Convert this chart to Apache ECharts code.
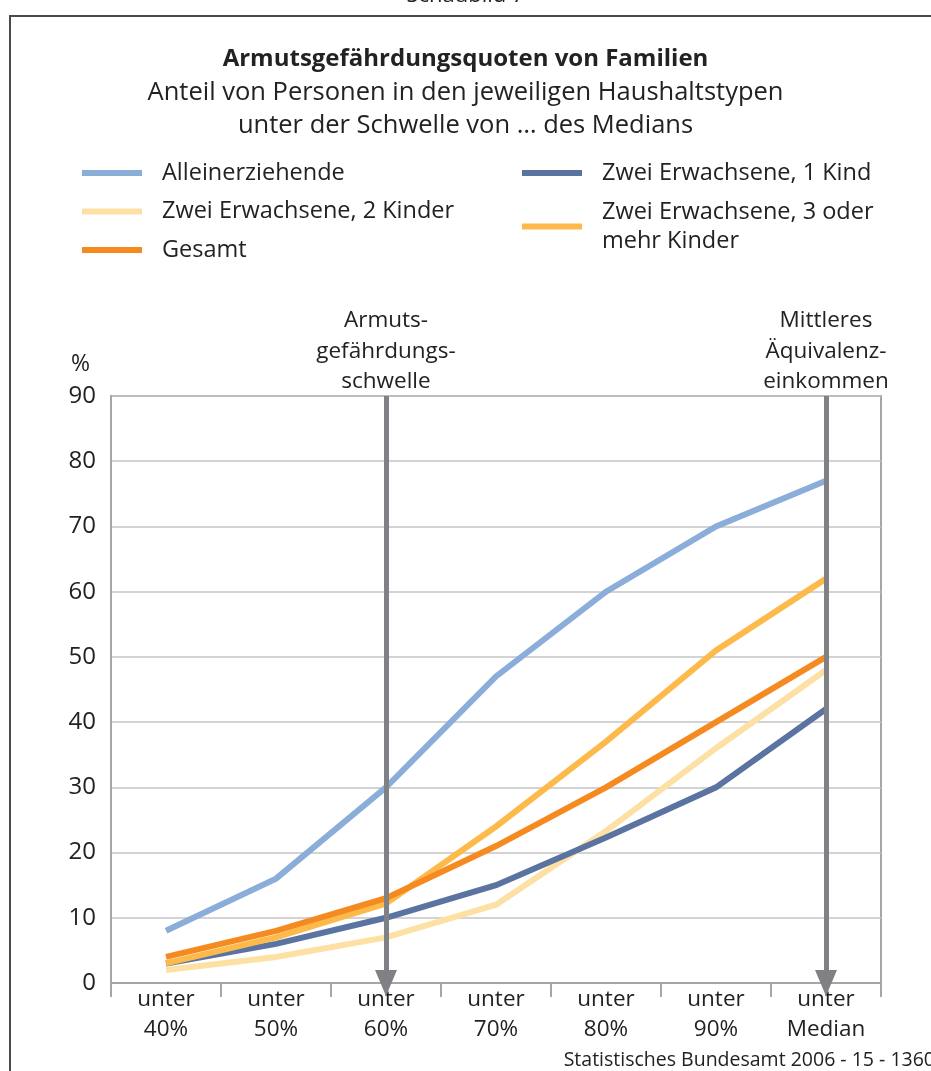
<!DOCTYPE html>
<html>
<head>
<meta charset="UTF-8">
<title>Armutsgefährdungsquoten von Familien</title>
<script src="https://cdn.jsdelivr.net/npm/echarts@6/dist/echarts.min.js"></script>
<style>
    html, body { margin: 0; padding: 0; background: #ffffff; }
    #main { width: 931px; height: 1071px; }
</style>
</head>
<body>
<div id="main"></div>
<script>
    // Daten
    var categories = ['unter\n40%', 'unter\n50%', 'unter\n60%', 'unter\n70%', 'unter\n80%', 'unter\n90%', 'unter\nMedian'];
    var yTicks = [0, 10, 20, 30, 40, 50, 60, 70, 80, 90];

    var alleinerziehende = [8, 16, 30, 47, 60, 70, 77];
    var zweiErw1Kind = [3, 6, 10, 15, 22.3, 30, 42];
    var zweiErw2Kinder = [2, 4, 7, 12, 23.3, 36, 48];
    var zweiErw3Kinder = [3, 7, 12.2, 24, 37, 51, 62];
    var gesamt = [4, 8, 13, 21, 30, 40, 50];

    // Markierungen: Armutsgefährdungsschwelle (60%) und Median
    var markers = [
        {index: 2, text: 'Armuts-\ngefährdungs-\nschwelle'},
        {index: 6, text: 'Mittleres\nÄquivalenz-\neinkommen'}
    ];

    var font = '"Open Sans", "Noto Sans", sans-serif';
    var textColor = '#222222';
    var axisGray = '#a6a6aa';

    var myChart = echarts.init(document.getElementById('main'));

    function lineSeries(name, data, color) {
        return {
            name: name,
            type: 'line',
            data: data,
            z: 3,
            symbol: 'none',
            smooth: false,
            lineStyle: {color: color, width: 6, cap: 'butt', join: 'miter'},
            itemStyle: {color: color}
        };
    }

    var legendText = {fontFamily: font, fontSize: 23.5, color: textColor, lineHeight: 26, padding: [0, 0, 0, 15]};

    var option = {
        backgroundColor: '#ffffff',
        animation: false,
        title: {
            text: 'Armutsgefährdungsquoten von Familien',
            subtext: 'Anteil von Personen in den jeweiligen Haushaltstypen\nunter der Schwelle von … des Medians',
            left: 'center',
            top: 39,
            itemGap: 2,
            textStyle: {fontFamily: font, fontSize: 24, fontWeight: 'bold', color: textColor, lineHeight: 30},
            subtextStyle: {fontFamily: font, fontSize: 25.5, color: textColor, lineHeight: 33, align: 'center'}
        },
        legend: [
            {
                data: ['Alleinerziehende', 'Zwei Erwachsene, 2 Kinder', 'Gesamt'],
                orient: 'vertical',
                left: 77,
                top: 155,
                itemWidth: 60,
                itemHeight: 6,
                itemGap: 12.5,
                icon: 'rect',
                selectedMode: false,
                textStyle: legendText
            },
            {
                data: ['Zwei Erwachsene, 1 Kind'],
                orient: 'vertical',
                left: 517,
                top: 155,
                itemWidth: 60,
                itemHeight: 6,
                icon: 'rect',
                selectedMode: false,
                textStyle: legendText
            },
            {
                data: ['Zwei Erwachsene, 3 oder mehr Kinder'],
                orient: 'vertical',
                left: 517,
                top: 178,
                itemWidth: 60,
                itemHeight: 6,
                icon: 'rect',
                selectedMode: false,
                formatter: function () { return 'Zwei Erwachsene, 3 oder\nmehr Kinder'; },
                textStyle: {fontFamily: font, fontSize: 23.5, color: textColor, lineHeight: 29, padding: [29, 0, 0, 15]}
            }
        ],
        grid: {
            left: 111,
            right: 50,
            top: 396,
            bottom: 88,
            show: true,
            borderColor: axisGray,
            borderWidth: 2,
            containLabel: false
        },
        xAxis: {
            type: 'category',
            data: categories,
            boundaryGap: true,
            axisLine: {lineStyle: {color: axisGray, width: 2}},
            axisTick: {show: true, length: 14, lineStyle: {color: axisGray, width: 2}},
            axisLabel: {
                fontFamily: font, fontSize: 22.5, color: textColor, lineHeight: 30, margin: 2, interval: 0
            },
            splitLine: {show: false}
        },
        yAxis: {
            type: 'value',
            min: 0,
            max: 90,
            interval: 10,
            name: '%',
            nameLocation: 'end',
            nameGap: 20,
            nameTextStyle: {fontFamily: font, fontSize: 23, color: textColor, align: 'right', padding: [0, 21, 0, 0]},
            axisLine: {show: true, lineStyle: {color: axisGray, width: 2}},
            axisTick: {show: false},
            axisLabel: {
                fontFamily: font, fontSize: 24, color: textColor, margin: 15,
                formatter: function (v) { return yTicks.indexOf(v) >= 0 ? String(v) : ''; }
            },
            splitLine: {lineStyle: {color: '#c4c4c6', width: 1.5}}
        },
        series: [
            {
                name: 'Schwelle',
                type: 'line',
                data: [],
                z: 1,
                symbol: 'none',
                markLine: {
                    silent: true,
                    symbol: ['none', 'triangle'],
                    symbolSize: [22, 26],
                    lineStyle: {color: '#808185', width: 5, type: 'solid'},
                    label: {
                        show: true,
                        position: 'start',
                        distance: -1,
                        fontFamily: font,
                        fontSize: 22.5,
                        lineHeight: 30.5,
                        color: textColor,
                        align: 'center',
                        formatter: function (p) { return p.name; }
                    },
                    data: markers.map(function (m) {
                        return [
                            {name: m.text, coord: [m.index, 90]},
                            {coord: [m.index, 0]}
                        ];
                    })
                }
            },
            lineSeries('Alleinerziehende', alleinerziehende, '#8badda'),
            lineSeries('Zwei Erwachsene, 2 Kinder', zweiErw2Kinder, '#fde1a4'),
            lineSeries('Zwei Erwachsene, 1 Kind', zweiErw1Kind, '#5a73a1'),
            lineSeries('Zwei Erwachsene, 3 oder mehr Kinder', zweiErw3Kinder, '#fdba4b'),
            lineSeries('Gesamt', gesamt, '#f58b20')
        ],
        graphic: [
            {
                type: 'rect',
                silent: true,
                shape: {x: 10, y: 16, width: 940, height: 1080},
                style: {fill: 'none', stroke: '#4a4a4a', lineWidth: 2}
            },
            {
                type: 'text',
                left: 'center',
                top: -15,
                silent: true,
                style: {text: 'Schaubild 7', font: '22px ' + font, fill: textColor}
            },
            {
                type: 'text',
                right: -4,
                top: 1050,
                silent: true,
                style: {text: 'Statistisches Bundesamt 2006 - 15 - 1360', font: '19.5px ' + font, fill: textColor}
            }
        ]
    };

    myChart.setOption(option);
</script>
</body>
</html>
